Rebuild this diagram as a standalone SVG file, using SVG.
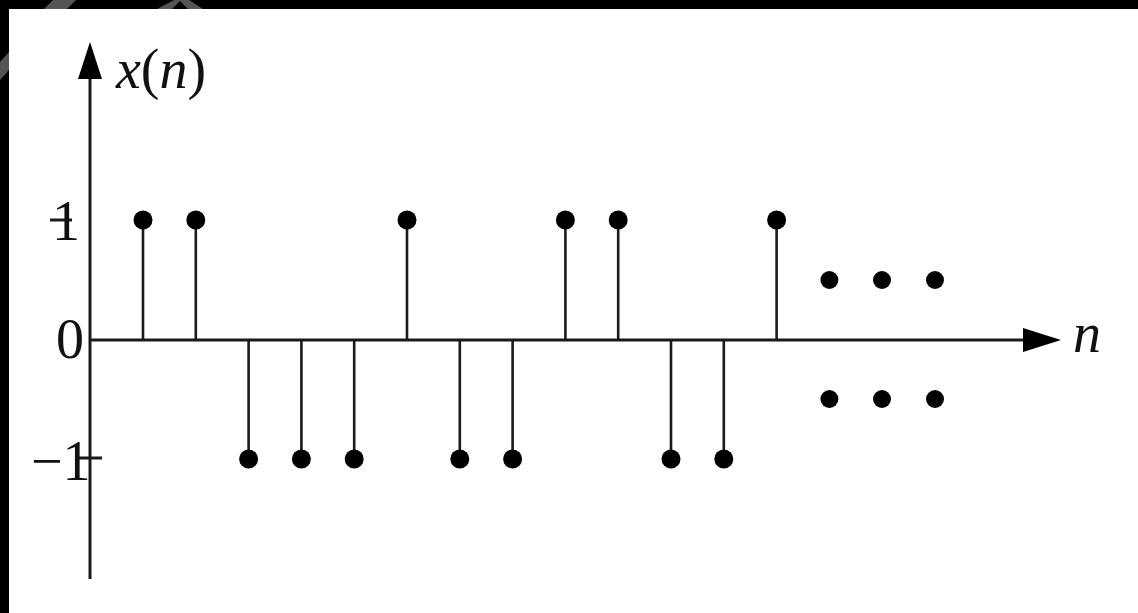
<svg xmlns="http://www.w3.org/2000/svg" width="1138" height="613" viewBox="0 0 1138 613">
<defs>
<style>
.ax{stroke:#1a1a1a;stroke-width:3;fill:none}
.st{stroke:#1a1a1a;stroke-width:2.6;fill:none}
.dot{fill:#000}
.lbl{font-size:56px;fill:#111}
.it{font-style:italic}
.wm{fill:#555}
</style>
</defs>
<rect x="0" y="0" width="1138" height="613" fill="#fff"/>
<g id="frame">
<rect x="0" y="0" width="1138" height="9" fill="#000"/>
<rect x="0" y="0" width="9" height="613" fill="#000"/>
<polygon class="wm" points="44,9 67,9 76,0 53,0"/>
<polygon class="wm" points="157,9 172,9 180,1 188,9 203,9 186,-2 178,-2"/>
<polygon class="wm" points="0,62 0,80 9,70 9,52"/>
</g>
<g id="connectors">
<line class="ax" x1="90" y1="70" x2="90" y2="579"/>
<polygon points="90,42 78,79 102,79" fill="#000"/>
<line class="ax" x1="90" y1="340" x2="1030" y2="340"/>
<polygon points="1061,340 1023,328 1023,352" fill="#000"/>
<line class="ax" x1="50" y1="220" x2="72" y2="220"/>
<line class="ax" x1="78" y1="458" x2="102" y2="458"/>
</g>
<g id="labels" font-family="'Liberation Serif', 'Times New Roman', Times, serif">
<text class="lbl" x="116" y="88"><tspan class="it">x</tspan>(<tspan class="it">n</tspan>)</text>
<text class="lbl" x="80" y="240" text-anchor="end">1</text>
<text class="lbl" x="56" y="358">0</text>
<text class="lbl" x="31" y="480">−1</text>
<text class="lbl it" x="1073" y="352">n</text>
</g>
<g id="stems">
<g id="s0"><line class="st" x1="143" y1="340" x2="143" y2="220"/><circle class="dot" cx="143" cy="220" r="9.5"/></g>
<g id="s1"><line class="st" x1="195.8" y1="340" x2="195.8" y2="220"/><circle class="dot" cx="195.8" cy="220" r="9.5"/></g>
<g id="s2"><line class="st" x1="248.6" y1="340" x2="248.6" y2="459"/><circle class="dot" cx="248.6" cy="459" r="9.5"/></g>
<g id="s3"><line class="st" x1="301.4" y1="340" x2="301.4" y2="459"/><circle class="dot" cx="301.4" cy="459" r="9.5"/></g>
<g id="s4"><line class="st" x1="354.2" y1="340" x2="354.2" y2="459"/><circle class="dot" cx="354.2" cy="459" r="9.5"/></g>
<g id="s5"><line class="st" x1="407" y1="340" x2="407" y2="220"/><circle class="dot" cx="407" cy="220" r="9.5"/></g>
<g id="s6"><line class="st" x1="459.8" y1="340" x2="459.8" y2="459"/><circle class="dot" cx="459.8" cy="459" r="9.5"/></g>
<g id="s7"><line class="st" x1="512.6" y1="340" x2="512.6" y2="459"/><circle class="dot" cx="512.6" cy="459" r="9.5"/></g>
<g id="s8"><line class="st" x1="565.4" y1="340" x2="565.4" y2="220"/><circle class="dot" cx="565.4" cy="220" r="9.5"/></g>
<g id="s9"><line class="st" x1="618.2" y1="340" x2="618.2" y2="220"/><circle class="dot" cx="618.2" cy="220" r="9.5"/></g>
<g id="s10"><line class="st" x1="671" y1="340" x2="671" y2="459"/><circle class="dot" cx="671" cy="459" r="9.5"/></g>
<g id="s11"><line class="st" x1="723.8" y1="340" x2="723.8" y2="459"/><circle class="dot" cx="723.8" cy="459" r="9.5"/></g>
<g id="s12"><line class="st" x1="776.6" y1="340" x2="776.6" y2="220"/><circle class="dot" cx="776.6" cy="220" r="9.5"/></g>
</g>
<g id="ellipsis">
<circle class="dot" cx="829.4" cy="280" r="9"/>
<circle class="dot" cx="882" cy="280" r="9"/>
<circle class="dot" cx="935" cy="280" r="9"/>
<circle class="dot" cx="829.4" cy="399" r="9"/>
<circle class="dot" cx="882" cy="399" r="9"/>
<circle class="dot" cx="935" cy="399" r="9"/>
</g>
</svg>
